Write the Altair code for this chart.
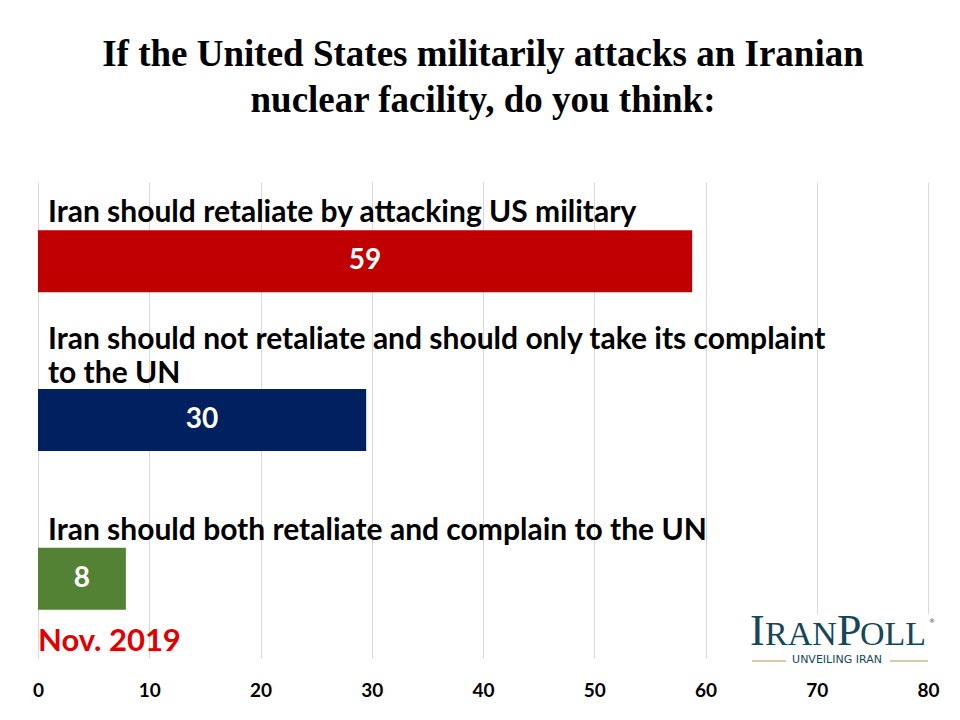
import altair as alt
import pandas as pd

categories = [
    "Iran should retaliate by attacking US military",
    "Iran should not retaliate and should only take its complaint\n\u00a0to the UN",
    "Iran should both retaliate and complain to the UN",
]
line_counts = [1, 2, 1]
values = [58.8, 29.5, 7.9]
colors = ["#C00000", "#002060", "#548235"]
x_ticks = [0, 10, 20, 30, 40, 50, 60, 70, 80]

df = pd.DataFrame({"category": categories, "value": values, "lines": line_counts})

W, H = 890, 476
LABEL_FONT = "Lato"

y_enc = alt.Y("category:N", sort=categories, axis=None,
              scale=alt.Scale(paddingInner=0, paddingOuter=0))
x_scale = alt.Scale(domain=[0, 80], nice=False, zero=True)

base = alt.Chart(df)

bars = base.mark_bar(height=62).encode(
    x=alt.X("value:Q", scale=x_scale,
            axis=alt.Axis(values=x_ticks, format="d", grid=True, gridColor="#D9D9D9",
                          gridWidth=1, domain=False, ticks=False, labelPadding=23,
                          labelFontSize=19, labelFontWeight="bold", labelFont=LABEL_FONT,
                          labelColor="#000000", title=None, labelFlush=False)),
    y=y_enc,
    color=alt.Color("category:N", scale=alt.Scale(domain=categories, range=colors), legend=None),
)

values_text = base.transform_calculate(mid="datum.value / 2").mark_text(
    color="white", fontSize=28, fontWeight="bold", font=LABEL_FONT, align="center", baseline="middle"
).encode(
    x=alt.X("mid:Q", scale=x_scale),
    y=y_enc,
    text=alt.Text("value:Q", format=".0f"),
)

def cat_layer(n_lines, dy, dx):
    return base.transform_filter(alt.datum.lines == n_lines).mark_text(
        align="left", baseline="alphabetic", dx=dx, dy=dy, fontSize=30, fontWeight="bold",
        font=LABEL_FONT, color="#000000", lineBreak="\n", lineHeight=34
    ).encode(
        x=alt.datum(0),
        y=y_enc,
        text="category:N",
    )

cat_text_1 = cat_layer(1, -39, 10)
cat_text_2 = cat_layer(2, -71, 10)

date_text = alt.Chart(pd.DataFrame({"t": ["Nov. 2019"]})).mark_text(
    align="left", baseline="middle", fontSize=31, fontWeight="bold", font=LABEL_FONT, color="#E00000"
).encode(x=alt.value(0), y=alt.value(460), text="t:N")

# logo
logo_bg = alt.Chart(pd.DataFrame({"a": [1]})).mark_rect(color="white").encode(
    x=alt.value(706), x2=alt.value(897), y=alt.value(432), y2=alt.value(492)
)
logo_letters = ["I", "RAN", "P", "OLL"]
logo_x = [712, 727, 799, 822]
logo_size = [44, 34, 44, 34]
logo_layers = []
for t, xx, s in zip(logo_letters, logo_x, logo_size):
    logo_layers.append(
        alt.Chart(pd.DataFrame({"t": [t]})).mark_text(
            align="left", baseline="alphabetic", fontSize=s, font="Liberation Serif", color="#17465A"
        ).encode(x=alt.value(xx), y=alt.value(463), text="t:N")
    )
logo_reg = alt.Chart(pd.DataFrame({"t": ["®"]})).mark_text(
    align="left", baseline="alphabetic", fontSize=6, font="DejaVu Sans", color="#17465A"
).encode(x=alt.value(891), y=alt.value(441), text="t:N")
logo_sub = alt.Chart(pd.DataFrame({"t": ["UNVEILING IRAN"]})).mark_text(
    align="center", baseline="middle", fontSize=11, font="DejaVu Sans", color="#17465A"
).encode(x=alt.value(799), y=alt.value(478), text="t:N")
logo_rule_l = alt.Chart(pd.DataFrame({"a": [1]})).mark_rule(color="#C9B98F", strokeWidth=1.5).encode(
    x=alt.value(714), x2=alt.value(748), y=alt.value(479)
)
logo_rule_r = alt.Chart(pd.DataFrame({"a": [1]})).mark_rule(color="#C9B98F", strokeWidth=1.5).encode(
    x=alt.value(852), x2=alt.value(890), y=alt.value(479)
)

chart = alt.layer(
    bars, values_text, cat_text_1, cat_text_2, date_text, logo_bg, *logo_layers, logo_reg,
    logo_sub, logo_rule_l, logo_rule_r
).properties(
    width=W, height=H,
    title=alt.TitleParams(
        text=["If the United States militarily attacks an Iranian", "nuclear facility, do you think:"],
        font="Liberation Serif", fontSize=37, fontWeight="bold", color="#000000",
        anchor="middle", offset=62, lineHeight=46,
    ),
    autosize=alt.AutoSizeParams(type="none"),
    padding={"left": 30, "top": 174, "right": 24, "bottom": 54},
).configure_view(stroke=None)

chart.save("out.html", embed_options={"renderer": "svg", "actions": False})
